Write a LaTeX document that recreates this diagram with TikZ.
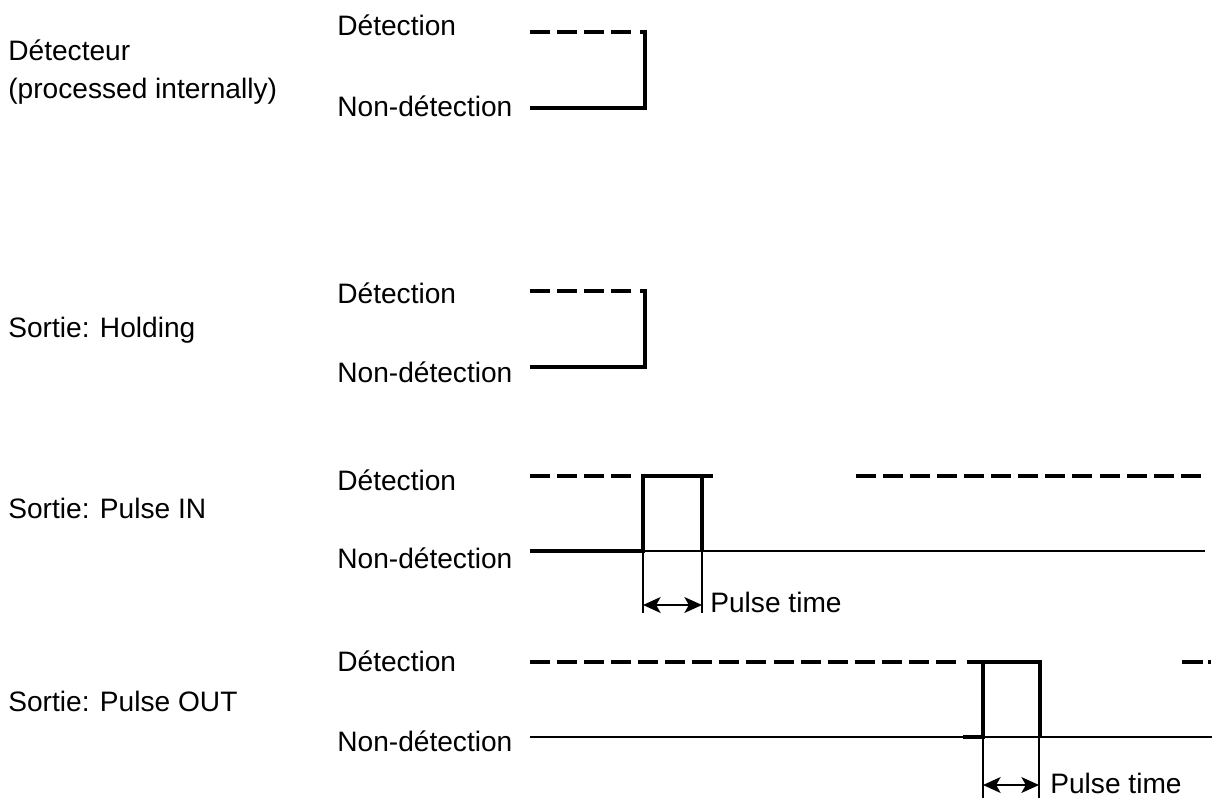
\documentclass[tikz,border=0pt]{standalone}
\usepackage{fontspec}
\setmainfont{Liberation Sans}
\usetikzlibrary{arrows.meta}
\begin{document}
\begin{tikzpicture}[x=0.02cm, y=-0.02cm, font=\fontsize{16}{19}\selectfont, line join=miter, >={Stealth[length=10pt,width=9pt,inset=2.5pt]},
		txt/.style={anchor=base west, inner sep=0pt},
		hi/.style={line width=2.8pt, dash pattern=on 11.4pt off 4pt},
		lo/.style={line width=2.6pt},
		fine/.style={line width=1.3pt}]
	\useasboundingbox (0,0) rectangle (1221,798);
	\node[txt] (detecteur) at (8,60) {Détecteur};
	\node[txt] (internal) at (8,98) {(processed internally)};
	\node[txt] (holding) at (8,337) {Sortie: Holding};
	\node[txt] (pulsein) at (8,518) {Sortie: Pulse IN};
	\node[txt] (pulseout) at (8,711) {Sortie: Pulse OUT};
	\foreach \n/\yd/\yn in {a/35/116, b/303/382, c/490/568, d/671/751} {
		\node[txt] (det\n) at (337,\yd) {Détection};
		\node[txt] (nondet\n) at (337,\yn) {Non-détection};
	}
	\foreach \y in {32,291} {
		\draw[hi] (530,\y) -- (633,\y);
		\draw[lo] (640,\y) -- (645,\y) -- (645,\y+76) -- (530,\y+76);
	}
	\draw[hi] (530,476) -- (634,476) (856,476) -- (1205,476);
	\draw[lo] (530,551) -- (643,551) -- (643,476) -- (713,476) (702,476) -- (702,551);
	\draw[fine] (643,551) -- (1205,551) (643,551) -- (643,613) (702,551) -- (702,613);
	\coordinate (inA) at (643,605);
	\coordinate (inB) at (702,605);
	\draw[fine,<->] (inA) -- (inB);
	\node[txt] (timein) at (710,612) {Pulse time};
	\draw[hi] (530,662) -- (962,662);
	\draw[lo] (963,737) -- (983,737) -- (983,662) -- (1042,662) (967,662) -- (983,662) (1040,662) -- (1040,737);
	\draw[lo] (1182,662) -- (1203,662) (1208,662) -- (1211,662);
	\draw[fine] (530,737) -- (1212,737) (983,737) -- (983,798) (1039,737) -- (1039,798);
	\coordinate (outA) at (983,785);
	\coordinate (outB) at (1039,785);
	\draw[fine,<->] (outA) -- (outB);
	\node[txt] (timeout) at (1050,793) {Pulse time};
\end{tikzpicture}
\end{document}
